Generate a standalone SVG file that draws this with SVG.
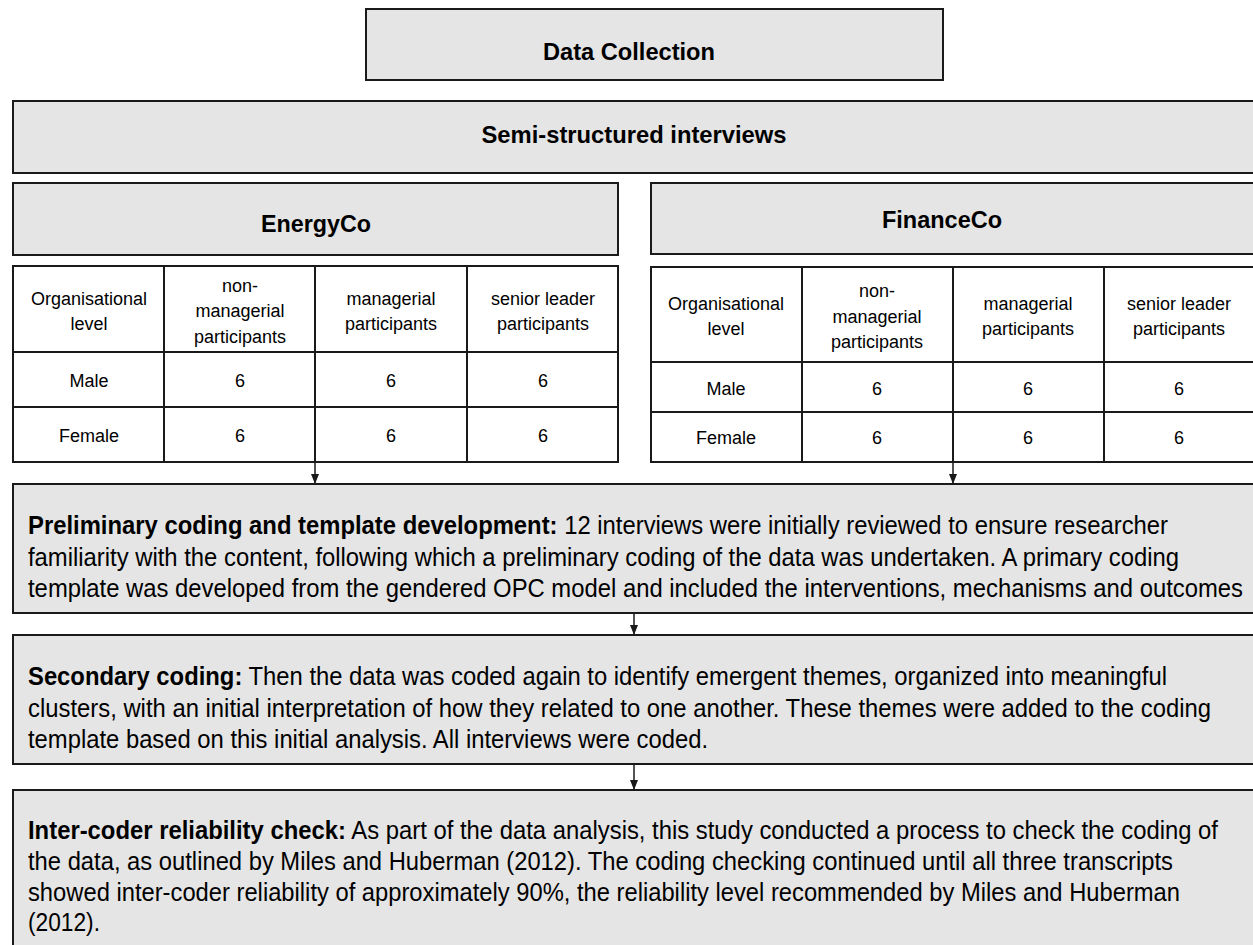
<svg xmlns="http://www.w3.org/2000/svg" width="1253" height="945" viewBox="0 0 1253 945">
<style>
.box{fill:#e5e5e5;stroke:#1a1a1a;stroke-width:2}
.cell{fill:#ffffff;stroke:#1a1a1a;stroke-width:2}
.grid{stroke:#1a1a1a;stroke-width:2;fill:none}
.hd{font-family:"Liberation Sans",Arial,sans-serif;font-size:24px;font-weight:bold;fill:#000;text-anchor:middle}
.tb{font-family:"Liberation Sans",Arial,sans-serif;font-size:18px;fill:#000;text-anchor:middle}
.body{font-family:"Liberation Sans",Arial,sans-serif;font-size:25px;fill:#000}
.b{font-weight:bold}
.conn{stroke:#1a1a1a;stroke-width:1.5;fill:none}
</style>
<defs>
<marker id="ah" markerUnits="userSpaceOnUse" markerWidth="10" markerHeight="12" refX="10" refY="5" orient="auto">
<path d="M0,1 L10,5 L0,9 Z" fill="#1a1a1a"/>
</marker>
</defs>
<rect width="1253" height="945" fill="#ffffff"/>

<g id="data-collection">
<rect class="box" x="366" y="9" width="577" height="71"/>
<text class="hd" x="629" y="60" textLength="172" lengthAdjust="spacingAndGlyphs">Data Collection</text>
</g>

<g id="semi-structured">
<rect class="box" x="13" y="101" width="1250" height="72"/>
<text class="hd" x="634" y="143" textLength="305" lengthAdjust="spacingAndGlyphs">Semi-structured interviews</text>
</g>

<g id="energyco">
<rect class="box" x="13" y="183" width="605" height="72"/>
<text class="hd" x="316" y="232" textLength="110" lengthAdjust="spacingAndGlyphs">EnergyCo</text>
</g>

<g id="financeco">
<rect class="box" x="651" y="183" width="612" height="71"/>
<text class="hd" x="942" y="228" textLength="120" lengthAdjust="spacingAndGlyphs">FinanceCo</text>
</g>

<g id="energyco-table">
<rect class="cell" x="13" y="266" width="605" height="196"/>
<path class="grid" d="M13,352H618M13,407H618M164,266V462M315,266V462M467,266V462"/>
<text class="tb" x="89" y="305">Organisational</text>
<text class="tb" x="89" y="330">level</text>
<text class="tb" x="240" y="292">non-</text>
<text class="tb" x="240" y="317">managerial</text>
<text class="tb" x="240" y="343">participants</text>
<text class="tb" x="391" y="305">managerial</text>
<text class="tb" x="391" y="330">participants</text>
<text class="tb" x="543" y="305">senior leader</text>
<text class="tb" x="543" y="330">participants</text>
<text class="tb" x="89" y="387">Male</text>
<text class="tb" x="240" y="387">6</text>
<text class="tb" x="391" y="387">6</text>
<text class="tb" x="543" y="387">6</text>
<text class="tb" x="89" y="442">Female</text>
<text class="tb" x="240" y="442">6</text>
<text class="tb" x="391" y="442">6</text>
<text class="tb" x="543" y="442">6</text>
</g>

<g id="financeco-table">
<rect class="cell" x="651" y="267" width="612" height="195"/>
<path class="grid" d="M651,362H1263M651,412H1263M802,267V462M953,267V462M1104,267V462"/>
<text class="tb" x="726" y="310">Organisational</text>
<text class="tb" x="726" y="335">level</text>
<text class="tb" x="877" y="297">non-</text>
<text class="tb" x="877" y="323">managerial</text>
<text class="tb" x="877" y="348">participants</text>
<text class="tb" x="1028" y="310">managerial</text>
<text class="tb" x="1028" y="335">participants</text>
<text class="tb" x="1179" y="310">senior leader</text>
<text class="tb" x="1179" y="335">participants</text>
<text class="tb" x="726" y="395">Male</text>
<text class="tb" x="877" y="395">6</text>
<text class="tb" x="1028" y="395">6</text>
<text class="tb" x="1179" y="395">6</text>
<text class="tb" x="726" y="444">Female</text>
<text class="tb" x="877" y="444">6</text>
<text class="tb" x="1028" y="444">6</text>
<text class="tb" x="1179" y="444">6</text>
</g>

<g id="preliminary-coding">
<rect class="box" x="13" y="484" width="1250" height="129"/>
<text class="body" x="28" y="534" textLength="1140" lengthAdjust="spacingAndGlyphs"><tspan class="b">Preliminary coding and template development:</tspan> 12 interviews were initially reviewed to ensure researcher</text>
<text class="body" x="28" y="566" textLength="1151" lengthAdjust="spacingAndGlyphs">familiarity with the content, following which a preliminary coding of the data was undertaken. A primary coding</text>
<text class="body" x="28" y="597" textLength="1215" lengthAdjust="spacingAndGlyphs">template was developed from the gendered OPC model and included the interventions, mechanisms and outcomes</text>
</g>

<g id="secondary-coding">
<rect class="box" x="13" y="635" width="1250" height="129"/>
<text class="body" x="28" y="685" textLength="1139" lengthAdjust="spacingAndGlyphs"><tspan class="b">Secondary coding:</tspan> Then the data was coded again to identify emergent themes, organized into meaningful</text>
<text class="body" x="28" y="717" textLength="1183" lengthAdjust="spacingAndGlyphs">clusters, with an initial interpretation of how they related to one another. These themes were added to the coding</text>
<text class="body" x="28" y="748" textLength="680" lengthAdjust="spacingAndGlyphs">template based on this initial analysis. All interviews were coded.</text>
</g>

<g id="inter-coder">
<rect class="box" x="13" y="790" width="1250" height="170"/>
<text class="body" x="28" y="839" textLength="1190" lengthAdjust="spacingAndGlyphs"><tspan class="b">Inter-coder reliability check:</tspan> As part of the data analysis, this study conducted a process to check the coding of</text>
<text class="body" x="28" y="870" textLength="1145" lengthAdjust="spacingAndGlyphs">the data, as outlined by Miles and Huberman (2012). The coding checking continued until all three transcripts</text>
<text class="body" x="28" y="901" textLength="1152" lengthAdjust="spacingAndGlyphs">showed inter-coder reliability of approximately 90%, the reliability level recommended by Miles and Huberman</text>
<text class="body" x="28" y="931" textLength="72" lengthAdjust="spacingAndGlyphs">(2012).</text>
</g>

<g id="connectors">
<line class="conn" x1="315" y1="462" x2="315" y2="484" marker-end="url(#ah)"/>
<line class="conn" x1="953" y1="462" x2="953" y2="484" marker-end="url(#ah)"/>
<line class="conn" x1="634" y1="613" x2="634" y2="635" marker-end="url(#ah)"/>
<line class="conn" x1="634" y1="764" x2="634" y2="790" marker-end="url(#ah)"/>
</g>
</svg>
